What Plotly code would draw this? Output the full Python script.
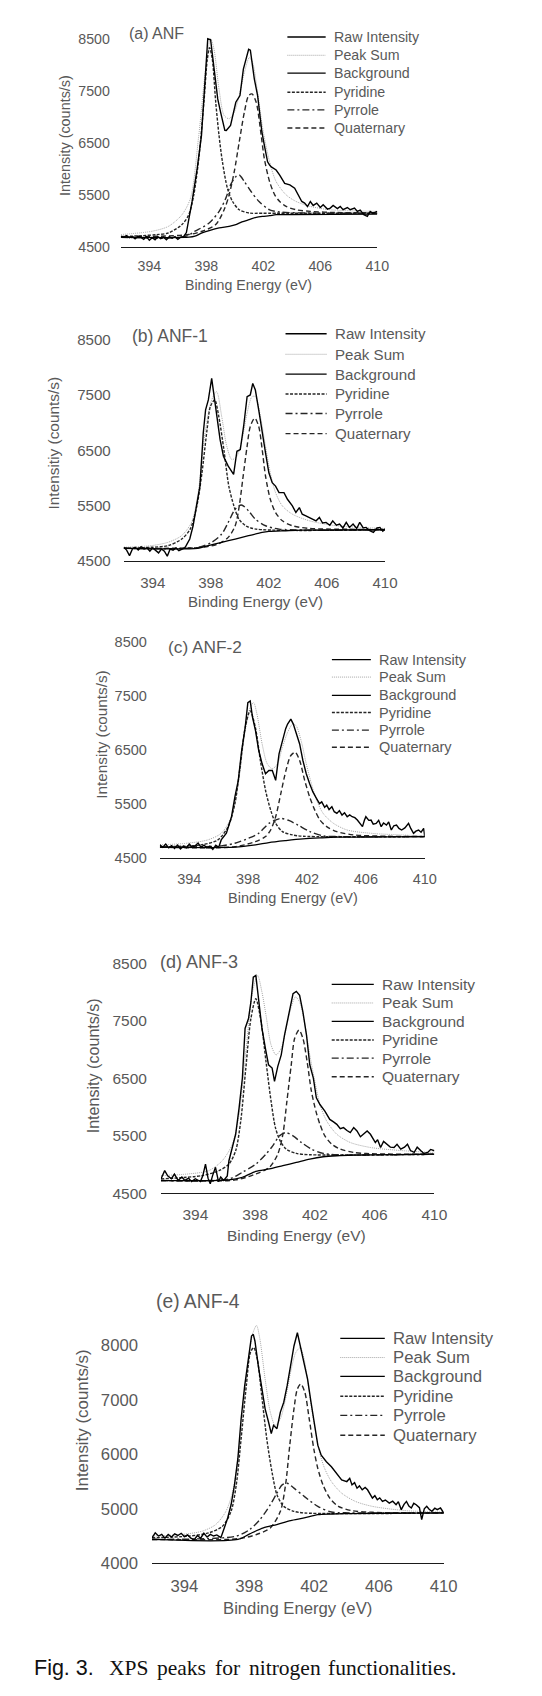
import plotly.graph_objects as go

# ---------------------------------------------------------------- data
X_TICKS = [394, 398, 402, 406, 410]
Y_TICKS_AD = [4500, 5500, 6500, 7500, 8500]
Y_TICKS_E = [4000, 5000, 6000, 7000, 8000]
SERIES_NAMES = ["Raw Intensity", "Peak Sum", "Background", "Pyridine", "Pyrrole", "Quaternary"]
PANEL_TITLES = ["(a) ANF", "(b) ANF-1", "(c) ANF-2", "(d) ANF-3", "(e) ANF-4"]
Y_TITLES = ["Intensity (counts/s)", "Intensitiy (counts/s)", "Intensity (counts/s)",
            "Intensity (counts/s)", "Intensity (counts/s)"]
X_TITLE = "Binding Energy (eV)"
CAPTION_LABEL = "Fig. 3."
CAPTION_WORDS = ["XPS", "peaks", "for", "nitrogen", "functionalities."]

# (a) ANF
A_RAW_X = [392.0, 392.2, 392.4, 392.6, 392.8, 393.0, 393.2, 393.4, 393.6, 393.8, 394.0, 394.2, 394.4, 394.6,
           394.8, 395.0, 395.2, 395.4, 395.6, 395.8, 396.0, 396.2, 396.4, 396.6, 397.0, 397.36, 397.66, 397.95,
           398.1, 398.3, 398.54, 398.8, 399.0, 399.3, 399.4, 399.7, 400.07, 400.36, 400.6, 400.78, 400.97,
           401.09, 401.2, 401.37, 401.6, 401.9, 402.07, 402.3, 402.44, 402.56, 402.9, 403.15, 403.5, 403.86,
           404.2, 404.45, 404.7, 404.9, 405.1, 405.3, 405.5, 405.75, 406.0, 406.2, 406.5, 406.7, 406.9, 407.2,
           407.4, 407.6, 407.9, 408.1, 408.4, 408.6, 408.8, 409.05, 409.3, 409.5, 409.7, 410.0]
A_RAW_Y = [4710, 4690, 4720, 4680, 4700, 4660, 4710, 4690, 4650, 4700, 4630, 4680, 4640, 4700, 4660, 4690,
           4640, 4700, 4670, 4700, 4650, 4690, 4700, 4780, 5376, 6011, 6646, 7916, 8500, 8480, 7916, 7344,
           7090, 6741, 6740, 6837, 7281, 7408, 7916, 8106, 8297, 8280, 8043, 7725, 7408, 6710, 6456, 6138,
           6075, 6040, 5980, 5884, 5725, 5694, 5630, 5503, 5376, 5345, 5280, 5376, 5300, 5344, 5260, 5313,
           5230, 5250, 5300, 5240, 5280, 5220, 5260, 5217, 5250, 5186, 5210, 5122, 5090, 5186, 5150, 5186]
A_SUM_X = [392.0, 394.2, 395.35, 396.29, 396.89, 397.47, 397.95, 398.3, 398.54, 398.89, 399.25, 399.6, 399.96,
           400.31, 400.67, 401.02, 401.25, 401.6, 401.96, 402.44, 402.9, 403.6, 404.3, 405.3, 406.7, 410.0]
A_SUM_Y = [4741, 4805, 4900, 5122, 5440, 6646, 7916, 8500, 8297, 7535, 7027, 6964, 7090, 7408, 7852, 8138,
           8043, 7471, 6773, 6138, 5757, 5503, 5376, 5281, 5217, 5186]
A_BG_X = [392.0, 396.8, 397.2, 397.7, 398.2, 398.9, 399.6, 400.07, 400.5, 401.0, 401.5, 401.96, 402.44, 402.9,
          403.86, 410.0]
A_BG_Y = [4690, 4690, 4710, 4773, 4817, 4868, 4900, 4932, 4983, 5027, 5071, 5090, 5103, 5122, 5125, 5135]
A_PYD_X = [392.0, 393.5, 394.5, 395.35, 396.29, 396.77, 397.12, 397.47, 397.83, 398.07, 398.23, 398.42, 398.66,
           398.89, 399.13, 399.48, 399.84, 400.31, 401.02, 401.96, 410.0]
A_PYD_Y = [4700, 4720, 4740, 4773, 4932, 5122, 5503, 6200, 7281, 8106, 8329, 8106, 7281, 6646, 6138, 5630,
           5376, 5217, 5154, 5150, 5150]
A_PYR_X = [392.0, 396.5, 397.2, 398.2, 398.9, 399.37, 399.7, 400.07, 400.31, 400.67, 401.14, 401.7, 402.44,
           403.15, 405.0, 410.0]
A_PYR_Y = [4690, 4700, 4805, 4963, 5186, 5440, 5694, 5852, 5884, 5757, 5567, 5376, 5217, 5173, 5155, 5150]
A_QUA_X = [392.0, 396.77, 397.71, 398.66, 399.25, 399.6, 399.96, 400.31, 400.67, 400.97, 401.2, 401.5, 401.85,
           402.07, 402.44, 402.8, 403.15, 403.6, 404.3, 405.3, 407.0, 410.0]
A_QUA_Y = [4690, 4741, 4805, 4932, 5217, 5503, 5948, 6519, 7090, 7408, 7440, 7281, 6646, 6200, 5757, 5503,
           5376, 5281, 5217, 5186, 5165, 5160]

# (b) ANF-1
B_RAW_X = [392.0, 392.2, 392.4, 392.6, 392.8, 393.0, 393.2, 393.4, 393.6, 393.8, 394.0, 394.2, 394.4, 394.6,
           394.8, 395.0, 395.2, 395.4, 395.6, 395.8, 396.0, 396.2, 396.3, 396.55, 396.78, 397.0, 397.25, 397.48,
           397.64, 397.83, 398.06, 398.17, 398.4, 398.64, 398.87, 399.2, 399.57, 399.8, 400.03, 400.26, 400.5,
           400.72, 400.89, 401.07, 401.3, 401.54, 401.77, 402.0, 402.23, 402.46, 402.7, 403.04, 403.28, 403.62,
           403.86, 404.1, 404.3, 404.55, 404.8, 405.0, 405.25, 405.48, 405.7, 405.94, 406.2, 406.4, 406.65,
           406.87, 407.1, 407.33, 407.55, 407.8, 408.05, 408.26, 408.5, 408.7, 408.95, 409.2, 409.45, 409.65,
           409.85, 410.0]
B_RAW_Y = [4750, 4700, 4600, 4720, 4750, 4700, 4760, 4720, 4740, 4680, 4740, 4700, 4650, 4720, 4680, 4590,
           4720, 4700, 4740, 4690, 4720, 4740, 4781, 4900, 5140, 5498, 5857, 6814, 7232, 7412, 7800, 7591,
           7173, 6694, 6395, 6216, 6067, 6485, 6515, 6933, 7472, 7502, 7711, 7591, 7232, 6874, 6455, 6096,
           5917, 5857, 5738, 5738, 5618, 5498, 5379, 5468, 5349, 5320, 5289, 5250, 5229, 5289, 5190, 5200,
           5150, 5229, 5150, 5170, 5100, 5200, 5110, 5170, 5090, 5200, 5100, 5110, 5050, 5020, 5100, 5110,
           5040, 5080]
B_SUM_X = [392.0, 393.9, 395.05, 395.98, 396.67, 397.13, 397.6, 398.06, 398.4, 398.75, 399.1, 399.45, 399.8,
           400.15, 400.5, 400.84, 401.07, 401.42, 401.77, 402.1, 402.46, 402.93, 403.62, 404.8, 406.65, 410.0]
B_SUM_Y = [4751, 4781, 4841, 4960, 5200, 5738, 6814, 7412, 7561, 7113, 6575, 6335, 6395, 6694, 7173, 7472,
           7472, 7113, 6575, 6096, 5738, 5498, 5349, 5229, 5140, 5092]
B_BG_X = [392.0, 397.1, 397.83, 398.75, 399.68, 400.6, 401.54, 402.0, 403.16, 404.3, 410.0]
B_BG_Y = [4733, 4733, 4781, 4841, 4900, 4960, 5020, 5038, 5050, 5060, 5068]
B_PYD_X = [392.0, 393.9, 395.05, 396.0, 396.58, 397.04, 397.39, 397.74, 397.97, 398.27, 398.55, 398.9, 399.24,
           399.59, 399.94, 400.4, 401.1, 410.0]
B_PYD_Y = [4733, 4751, 4781, 4900, 5080, 5498, 6096, 6874, 7292, 7412, 7113, 6515, 5857, 5498, 5259, 5140,
           5080, 5070]
B_PYR_X = [392.0, 397.13, 398.06, 398.75, 399.2, 399.68, 400.1, 400.6, 401.07, 401.77, 402.7, 410.0]
B_PYR_Y = [4733, 4751, 4841, 4990, 5200, 5439, 5516, 5409, 5259, 5140, 5080, 5068]
B_QUA_X = [392.0, 397.36, 398.5, 399.2, 399.68, 399.96, 400.2, 400.5, 400.72, 401.03, 401.3, 401.54, 401.77,
           402.1, 402.46, 402.93, 403.62, 404.8, 410.0]
B_QUA_Y = [4733, 4751, 4811, 4930, 5140, 5498, 5977, 6575, 6933, 7083, 6933, 6515, 6036, 5618, 5379, 5229,
           5140, 5092, 5075]

# (c) ANF-2
C_RAW_X = [392.0, 392.2, 392.4, 392.6, 392.8, 393.0, 393.2, 393.4, 393.6, 393.8, 394.0, 394.2, 394.4, 394.6,
           394.8, 395.0, 395.2, 395.4, 395.6, 395.8, 396.0, 396.17, 396.52, 396.87, 397.1, 397.33, 397.56,
           397.8, 397.98, 398.14, 398.3, 398.5, 398.72, 398.95, 399.18, 399.41, 399.64, 399.87, 400.1, 400.33,
           400.55, 400.68, 400.9, 401.07, 401.26, 401.5, 401.72, 401.95, 402.18, 402.4, 402.65, 402.85, 403.0,
           403.2, 403.34, 403.5, 403.69, 403.85, 404.03, 404.2, 404.38, 404.55, 404.73, 404.9, 405.07, 405.25,
           405.42, 405.6, 405.77, 405.9, 406.0, 406.2, 406.35, 406.5, 406.7, 406.87, 407.04, 407.2, 407.4,
           407.55, 407.73, 407.9, 408.08, 408.25, 408.43, 408.65, 408.9, 409.05, 409.24, 409.4, 409.58,
           409.75, 409.93, 410.0]
C_RAW_Y = [4745, 4700, 4760, 4690, 4730, 4680, 4740, 4670, 4720, 4690, 4760, 4700, 4730, 4780, 4700, 4740,
           4690, 4720, 4660, 4740, 4700, 4837, 4960, 5267, 5635, 5942, 6494, 6923, 7383, 7414, 7107, 6862,
           6494, 6248, 6064, 6125, 6125, 5942, 6433, 6678, 6900, 6985, 7077, 6985, 6831, 6617, 6310, 6064,
           5880, 5727, 5604, 5510, 5543, 5440, 5482, 5400, 5451, 5360, 5328, 5380, 5297, 5340, 5267, 5300,
           5267, 5250, 5205, 5150, 5083, 5200, 5267, 5200, 5205, 5130, 5144, 5200, 5083, 5150, 5113, 5170,
           5021, 5100, 5113, 5050, 5021, 5060, 5144, 5050, 4960, 5000, 5021, 4980, 5052, 4899]
C_SUM_X = [392.0, 393.86, 395.25, 396.17, 396.87, 397.33, 397.8, 398.14, 398.37, 398.6, 398.95, 399.3, 399.64,
           399.99, 400.33, 400.68, 401.03, 401.26, 401.6, 401.95, 402.3, 402.65, 403.1, 403.8, 404.73, 406.35,
           410.0]
C_SUM_Y = [4745, 4776, 4837, 4960, 5267, 5880, 6862, 7291, 7383, 7169, 6617, 6248, 6156, 6248, 6555, 6831,
           6985, 6955, 6678, 6248, 5880, 5574, 5328, 5144, 5021, 4960, 4911]
C_BG_X = [392.0, 397.1, 398.5, 399.41, 400.57, 401.72, 402.88, 404.03, 410.0]
C_BG_Y = [4702, 4702, 4745, 4788, 4825, 4856, 4874, 4887, 4899]
C_PYD_X = [392.0, 394.8, 395.94, 396.64, 397.1, 397.45, 397.8, 398.14, 398.49, 398.83, 399.18, 399.53, 399.87,
           400.33, 401.03, 401.72, 410.0]
C_PYD_Y = [4710, 4745, 4837, 5083, 5512, 6187, 6923, 7230, 6923, 6310, 5758, 5390, 5144, 4991, 4929, 4905,
           4899]
C_PYR_X = [392.0, 396.17, 397.1, 398.03, 398.72, 399.41, 399.87, 400.22, 400.8, 401.38, 402.2, 403.1, 404.03,
           410.0]
C_PYR_Y = [4702, 4727, 4776, 4868, 4960, 5144, 5205, 5236, 5193, 5113, 4991, 4911, 4900, 4899]
C_QUA_X = [392.0, 397.1, 398.49, 399.18, 399.53, 399.87, 400.22, 400.57, 400.9, 401.2, 401.5, 401.84, 402.18,
           402.53, 402.88, 403.34, 404.03, 405.19, 407.5, 410.0]
C_QUA_Y = [4702, 4710, 4807, 4899, 5021, 5267, 5696, 6126, 6402, 6463, 6310, 5942, 5635, 5390, 5205, 5083,
           4991, 4929, 4905, 4899]

# (d) ANF-3
D_RAW_X = [391.7, 391.95, 392.15, 392.4, 392.6, 392.85, 393.1, 393.3, 393.55, 393.75, 394.0, 394.2, 394.34,
           394.5, 394.68, 394.85, 395.0, 395.15, 395.35, 395.55, 395.7, 395.9, 396.14, 396.25, 396.48, 396.7,
           396.93, 397.15, 397.33, 397.56, 397.72, 397.88, 398.05, 398.24, 398.46, 398.69, 398.9, 399.14,
           399.3, 399.52, 399.75, 399.97, 400.3, 400.54, 400.76, 400.98, 401.2, 401.44, 401.66, 401.9, 402.1,
           402.34, 402.67, 403.0, 403.25, 403.47, 403.7, 403.92, 404.15, 404.37, 404.6, 404.82, 405.05,
           405.27, 405.5, 405.72, 405.9, 406.05, 406.2, 406.4, 406.6, 406.85, 407.05, 407.3, 407.5, 407.75,
           408.0, 408.2, 408.4, 408.65, 408.85, 409.1, 409.3, 409.55, 409.75, 410.0]
D_RAW_Y = [4747, 4891, 4800, 4750, 4830, 4720, 4780, 4720, 4760, 4700, 4750, 4720, 4700, 4800, 5006, 4760,
           4661, 4800, 4949, 4700, 4780, 4720, 4800, 5064, 5294, 5524, 5985, 6503, 7366, 7539, 7827, 8258,
           8288, 7827, 7366, 7021, 6733, 6676, 6445, 6705, 6906, 7251, 7654, 7971, 8011, 7942, 7654, 7251,
           6733, 6503, 6158, 6042, 5927, 5783, 5740, 5697, 5620, 5640, 5590, 5553, 5640, 5582, 5480, 5524,
           5580, 5524, 5450, 5381, 5430, 5294, 5400, 5352, 5300, 5294, 5350, 5265, 5300, 5352, 5240, 5208,
           5300, 5237, 5190, 5208, 5260, 5237]
D_SUM_X = [391.7, 393.55, 394.9, 395.8, 396.48, 396.93, 397.38, 397.83, 398.17, 398.46, 398.73, 399.07, 399.4,
           399.75, 400.08, 400.42, 400.7, 400.98, 401.3, 401.66, 402.0, 402.34, 402.79, 403.47, 404.37, 405.72,
           407.97, 410.0]
D_SUM_Y = [4805, 4834, 4891, 5064, 5352, 5870, 6963, 7999, 8288, 7999, 7597, 7079, 6906, 7021, 7366, 7741,
           7913, 7827, 7482, 6906, 6445, 6042, 5755, 5524, 5381, 5294, 5237, 5208]
D_BG_X = [391.7, 396.25, 397.15, 398.05, 398.96, 399.86, 400.76, 401.66, 402.56, 403.47, 404.6, 410.0]
D_BG_Y = [4719, 4730, 4776, 4880, 4920, 4978, 5035, 5093, 5133, 5150, 5160, 5179]
D_PYD_X = [391.7, 394.45, 395.58, 396.25, 396.7, 397.04, 397.38, 397.72, 398.05, 398.4, 398.73, 399.07, 399.36,
           399.68, 400.08, 400.76, 401.66, 410.0]
D_PYD_Y = [4747, 4805, 4891, 5006, 5237, 5755, 6676, 7539, 7884, 7482, 6791, 6100, 5640, 5409, 5266, 5191,
           5168, 5175]
D_PYR_X = [391.7, 396.25, 397.15, 398.05, 398.73, 399.18, 399.63, 400.04, 400.54, 401.1, 401.77, 402.56,
           403.47, 410.0]
D_PYR_Y = [4720, 4747, 4863, 5006, 5179, 5323, 5496, 5553, 5496, 5381, 5266, 5191, 5168, 5175]
D_QUA_X = [391.7, 396.7, 398.05, 398.96, 399.52, 399.86, 400.13, 400.42, 400.65, 400.94, 401.2, 401.48, 401.77,
           402.07, 402.34, 402.67, 403.13, 403.7, 404.6, 405.72, 410.0]
D_QUA_Y = [4720, 4730, 4834, 4949, 5179, 5524, 6100, 6733, 7194, 7338, 7194, 6791, 6273, 5927, 5697, 5496,
           5352, 5266, 5208, 5185, 5179]

# (e) ANF-4
E_RAW_X = [392.0, 392.2, 392.4, 392.6, 392.8, 393.0, 393.2, 393.4, 393.6, 393.8, 394.0, 394.2, 394.4, 394.6,
           394.8, 395.0, 395.2, 395.4, 395.6, 395.8, 396.0, 396.25, 396.46, 396.67, 396.88, 397.09, 397.3,
           397.5, 397.72, 397.93, 398.14, 398.25, 398.35, 398.56, 398.77, 398.98, 399.19, 399.36, 399.5,
           399.71, 399.92, 400.13, 400.34, 400.55, 400.76, 400.97, 401.18, 401.39, 401.6, 401.81, 402.02,
           402.23, 402.44, 402.76, 403.07, 403.4, 403.7, 404.02, 404.2, 404.34, 404.5, 404.65, 404.8, 404.97,
           405.15, 405.3, 405.45, 405.6, 405.75, 405.9, 406.05, 406.22, 406.4, 406.64, 406.85, 407.06, 407.2,
           407.38, 407.55, 407.7, 407.85, 408.0, 408.15, 408.3, 408.5, 408.64, 408.8, 408.95, 409.1, 409.27,
           409.45, 409.6, 409.8, 410.0]
E_RAW_Y = [4467, 4558, 4500, 4530, 4460, 4530, 4480, 4540, 4510, 4550, 4490, 4520, 4460, 4431, 4510, 4460,
           4550, 4480, 4530, 4500, 4520, 4470, 4649, 4831, 5073, 5439, 5924, 6652, 7259, 7745, 8170, 8202,
           8080, 7624, 7199, 6835, 6592, 6379, 6531, 6470, 6774, 6956, 7259, 7624, 7988, 8231, 7927, 7684,
           7381, 6956, 6531, 6167, 5985, 5863, 5772, 5651, 5530, 5499, 5560, 5439, 5480, 5378, 5420, 5348,
           5390, 5348, 5260, 5196, 5240, 5166, 5200, 5135, 5160, 5105, 5140, 5074, 5130, 4983, 5080, 5135,
           5050, 5014, 5100, 5074, 5020, 4801, 5000, 5044, 4990, 4953, 5010, 4983, 5014, 4923]
E_SUM_X = [392.0, 393.83, 395.1, 395.93, 396.56, 396.98, 397.4, 397.82, 398.2, 398.45, 398.66, 398.98, 399.3,
           399.6, 399.92, 400.24, 400.55, 400.87, 401.15, 401.39, 401.7, 402.02, 402.33, 402.65, 403.07, 403.7,
           404.55, 405.6, 407.7, 410.0]
E_SUM_Y = [4498, 4528, 4589, 4710, 4953, 5317, 6167, 7381, 8200, 8364, 8110, 7381, 6774, 6531, 6652, 7017,
           7502, 7867, 7958, 7745, 7138, 6531, 6046, 5742, 5499, 5287, 5135, 5044, 4965, 4941]
E_BG_X = [392.0, 397.3, 398.03, 398.87, 399.7, 400.55, 401.39, 402.23, 403.07, 403.9, 410.0]
E_BG_Y = [4437, 4437, 4540, 4649, 4710, 4783, 4831, 4892, 4904, 4910, 4923]
E_PYD_X = [392.0, 394.25, 395.51, 396.35, 396.88, 397.2, 397.5, 397.82, 398.07, 398.28, 398.5, 398.77, 399.08,
           399.4, 399.71, 400.13, 400.76, 401.39, 410.0]
E_PYD_Y = [4467, 4498, 4558, 4680, 4953, 5439, 6288, 7259, 7866, 7958, 7745, 7078, 6288, 5681, 5257, 5044,
           4953, 4923, 4923]
E_PYR_X = [392.0, 397.2, 398.03, 398.66, 399.3, 399.71, 400.03, 400.34, 400.76, 401.39, 402.23, 403.07, 403.9,
           410.0]
E_PYR_Y = [4437, 4498, 4619, 4801, 5074, 5287, 5439, 5469, 5378, 5227, 5044, 4941, 4926, 4923]
E_QUA_X = [392.0, 397.3, 398.45, 399.3, 399.92, 400.24, 400.5, 400.76, 400.97, 401.18, 401.43, 401.7, 401.98,
           402.23, 402.55, 402.97, 403.5, 404.34, 405.6, 410.0]
E_QUA_Y = [4437, 4450, 4528, 4649, 4953, 5439, 6167, 6835, 7199, 7290, 7138, 6652, 6106, 5742, 5439, 5196,
           5044, 4965, 4935, 4923]

PANEL_DATA = [
    dict(raw=(A_RAW_X, A_RAW_Y), sum=(A_SUM_X, A_SUM_Y), bg=(A_BG_X, A_BG_Y),
         pyd=(A_PYD_X, A_PYD_Y), pyr=(A_PYR_X, A_PYR_Y), qua=(A_QUA_X, A_QUA_Y), yticks=Y_TICKS_AD),
    dict(raw=(B_RAW_X, B_RAW_Y), sum=(B_SUM_X, B_SUM_Y), bg=(B_BG_X, B_BG_Y),
         pyd=(B_PYD_X, B_PYD_Y), pyr=(B_PYR_X, B_PYR_Y), qua=(B_QUA_X, B_QUA_Y), yticks=Y_TICKS_AD),
    dict(raw=(C_RAW_X, C_RAW_Y), sum=(C_SUM_X, C_SUM_Y), bg=(C_BG_X, C_BG_Y),
         pyd=(C_PYD_X, C_PYD_Y), pyr=(C_PYR_X, C_PYR_Y), qua=(C_QUA_X, C_QUA_Y), yticks=Y_TICKS_AD),
    dict(raw=(D_RAW_X, D_RAW_Y), sum=(D_SUM_X, D_SUM_Y), bg=(D_BG_X, D_BG_Y),
         pyd=(D_PYD_X, D_PYD_Y), pyr=(D_PYR_X, D_PYR_Y), qua=(D_QUA_X, D_QUA_Y), yticks=Y_TICKS_AD),
    dict(raw=(E_RAW_X, E_RAW_Y), sum=(E_SUM_X, E_SUM_Y), bg=(E_BG_X, E_BG_Y),
         pyd=(E_PYD_X, E_PYD_Y), pyr=(E_PYR_X, E_PYR_Y), qua=(E_QUA_X, E_QUA_Y), yticks=Y_TICKS_E),
]

# ---------------------------------------------------------------- layout geometry (page pixels)
W, H = 542, 1696
GEOM = [
    dict(xcal=(394, 153.3, 410, 387.3), ycal=(4500, 246.0, 8500, 36.0), xr=(392, 410), yr=(4500, 8600),
         fs=14.2, tfs=16.0, yfs=14.4, title=(130.0, 30.7), ytitle=(66.7, 133), xtitle=(255.5, 284.0),
         leg=(295.0, 334.3, 340.7), legy=[34.3, 52.7, 70.7, 90.0, 107.7, 126.0], ystand=10, xstand=6),
    dict(xcal=(394, 156.8, 410, 395.2), ycal=(4500, 562.5, 8500, 339.3), xr=(392, 410), yr=(4500, 8600),
         fs=15.1, tfs=17.5, yfs=15.4, title=(133.0, 335.7), ytitle=(55.3, 443), xtitle=(262.0, 603.0),
         leg=(293.1, 335.3, 341.5), legy=[333.3, 354.0, 374.0, 394.0, 413.7, 434.0], ystand=12, xstand=7),
    dict(xcal=(394, 194.3, 410, 436.0), ycal=(4500, 861.7, 8500, 644.3), xr=(392, 410), yr=(4500, 8600),
         fs=14.5, tfs=17.3, yfs=15.3, title=(170.0, 649.3), ytitle=(104.0, 737), xtitle=(300.3, 901.7),
         leg=(340.7, 380.7, 387.3), legy=[661.7, 679.3, 697.7, 715.0, 732.7, 750.0], ystand=12, xstand=7),
    dict(xcal=(394, 200.5, 410, 445.9), ycal=(4500, 1199.3, 8500, 967.7), xr=(391.7, 410), yr=(4500, 8600),
         fs=15.5, tfs=18.0, yfs=16.1, title=(161.8, 966.7), ytitle=(95.0, 1071), xtitle=(304.2, 1241.7),
         leg=(340.5, 383.7, 389.9), legy=[989.0, 1007.7, 1026.3, 1045.0, 1063.3, 1082.0], ystand=13, xstand=7),
    dict(xcal=(394, 189.3, 410, 455.5), ycal=(4000, 1572.3, 8000, 1352.7), xr=(392, 410), yr=(4000, 8600),
         fs=16.7, tfs=19.3, yfs=16.9, title=(158.3, 1308.3), ytitle=(85.0, 1428.3), xtitle=(305.5, 1618.3),
         leg=(349.3, 395.0, 401.0), legy=[1345.7, 1365.0, 1384.0, 1404.0, 1423.3, 1443.3], ystand=13, xstand=8),
]
CAPTION_POS = dict(y=1678.3, label_x=33.3, word_x=[110.0, 159.3, 218.3, 253.3, 334.3], size=21.5)

SANS = "Liberation Sans, Arial, sans-serif"
SERIF = "Liberation Serif, Times New Roman, serif"
GREY = "#595959"

STYLE = {
    "raw": dict(color="#000000", width=1.4, dash="solid"),
    "sum": dict(color="#a6a6a6", width=1.0, dash="1px,1px"),
    "bg": dict(color="#000000", width=1.3, dash="solid"),
    "pyd": dict(color="#262626", width=1.4, dash="3px,1.5px"),
    "pyr": dict(color="#262626", width=1.4, dash="7px,3px,2px,3px"),
    "qua": dict(color="#262626", width=1.4, dash="5px,3px"),
}
ORDER_DRAW = ["sum", "pyd", "pyr", "qua", "bg", "raw"]
ORDER_LEGEND = ["raw", "sum", "bg", "pyd", "pyr", "qua"]


def px(x):
    return x / W


def py(y):
    return 1 - y / H


def domain(v0, p0, v1, p1, r0, r1):
    s = (p1 - p0) / (v1 - v0)
    return p0 + (r0 - v0) * s, p0 + (r1 - v0) * s


fig = go.Figure()
annotations = []
shapes = []

for i, (d, g) in enumerate(zip(PANEL_DATA, GEOM)):
    n = "" if i == 0 else str(i + 1)
    xa, ya = "x" + n, "y" + n
    for key in ORDER_DRAW:
        xs, ys = d[key]
        m = min(len(xs), len(ys))
        st = STYLE[key]
        fig.add_trace(go.Scatter(
            x=xs[:m], y=ys[:m], mode="lines", xaxis=xa, yaxis=ya, showlegend=False,
            hoverinfo="skip",
            line=dict(color=st["color"], width=st["width"], dash=st["dash"],
                      shape="linear" if key == "raw" else "spline", smoothing=0.8),
        ))

    x0, x1 = domain(*g["xcal"], *g["xr"])
    yb, yt = domain(*g["ycal"], *g["yr"])
    tf = dict(family=SANS, size=g["fs"], color=GREY)
    fig.layout["xaxis" + n] = dict(
        domain=[px(x0), px(x1)], range=list(g["xr"]), anchor=ya, showline=True, linecolor="#1a1a1a",
        linewidth=1.4, showgrid=False, zeroline=False, ticks="", tickmode="array", tickvals=X_TICKS,
        tickfont=tf, ticklabelstandoff=g["xstand"], fixedrange=True)
    fig.layout["yaxis" + n] = dict(
        domain=[py(yb), py(yt)], range=list(g["yr"]), anchor=xa, showline=False, showgrid=False,
        zeroline=False, ticks="", tickmode="array", tickvals=d["yticks"], tickfont=tf,
        ticklabelstandoff=g["ystand"], fixedrange=True)

    annotations.append(dict(text=PANEL_TITLES[i], x=px(g["title"][0]), y=py(g["title"][1]), xref="paper",
                            yref="paper", xanchor="left", yanchor="middle", showarrow=False,
                            font=dict(family=SANS, size=g["tfs"], color=GREY)))
    annotations.append(dict(text=Y_TITLES[i], x=px(g["ytitle"][0]), y=py(g["ytitle"][1]), xref="paper",
                            yref="paper", xanchor="center", yanchor="middle", textangle=-90,
                            showarrow=False, font=dict(family=SANS, size=g["yfs"], color=GREY)))
    annotations.append(dict(text=X_TITLE, x=px(g["xtitle"][0]), y=py(g["xtitle"][1]), xref="paper",
                            yref="paper", xanchor="center", yanchor="middle", showarrow=False,
                            font=dict(family=SANS, size=g["fs"], color=GREY)))
    lx0, lx1, ltx = g["leg"]
    for key, name, ly in zip(ORDER_LEGEND, SERIES_NAMES, g["legy"]):
        st = STYLE[key]
        shapes.append(dict(type="line", xref="paper", yref="paper", x0=px(lx0), x1=px(lx1),
                           y0=py(ly), y1=py(ly),
                           line=dict(color=st["color"], width=st["width"], dash=st["dash"])))
        annotations.append(dict(text=name, x=px(ltx), y=py(ly), xref="paper", yref="paper",
                                xanchor="left", yanchor="middle", showarrow=False,
                                font=dict(family=SANS, size=g["fs"], color=GREY)))

annotations.append(dict(text=CAPTION_LABEL, x=px(CAPTION_POS["label_x"]), y=py(CAPTION_POS["y"]),
                        xref="paper", yref="paper", xanchor="left", yanchor="middle", showarrow=False,
                        font=dict(family=SANS, size=CAPTION_POS["size"], color="#111111")))
for word, wx in zip(CAPTION_WORDS, CAPTION_POS["word_x"]):
    annotations.append(dict(text=word, x=px(wx), y=py(CAPTION_POS["y"]), xref="paper", yref="paper",
                            xanchor="left", yanchor="middle", showarrow=False,
                            font=dict(family=SERIF, size=CAPTION_POS["size"], color="#111111")))

fig.update_layout(
    width=W, height=H, margin=dict(l=0, r=0, t=0, b=0), paper_bgcolor="white", plot_bgcolor="white",
    showlegend=False, annotations=annotations, shapes=shapes,
)

# no page margin (the figure fills the window exactly) and no mode bar
fig.write_html("out.html", config={"displayModeBar": False},
               post_script="document.body.style.margin='0px';")
